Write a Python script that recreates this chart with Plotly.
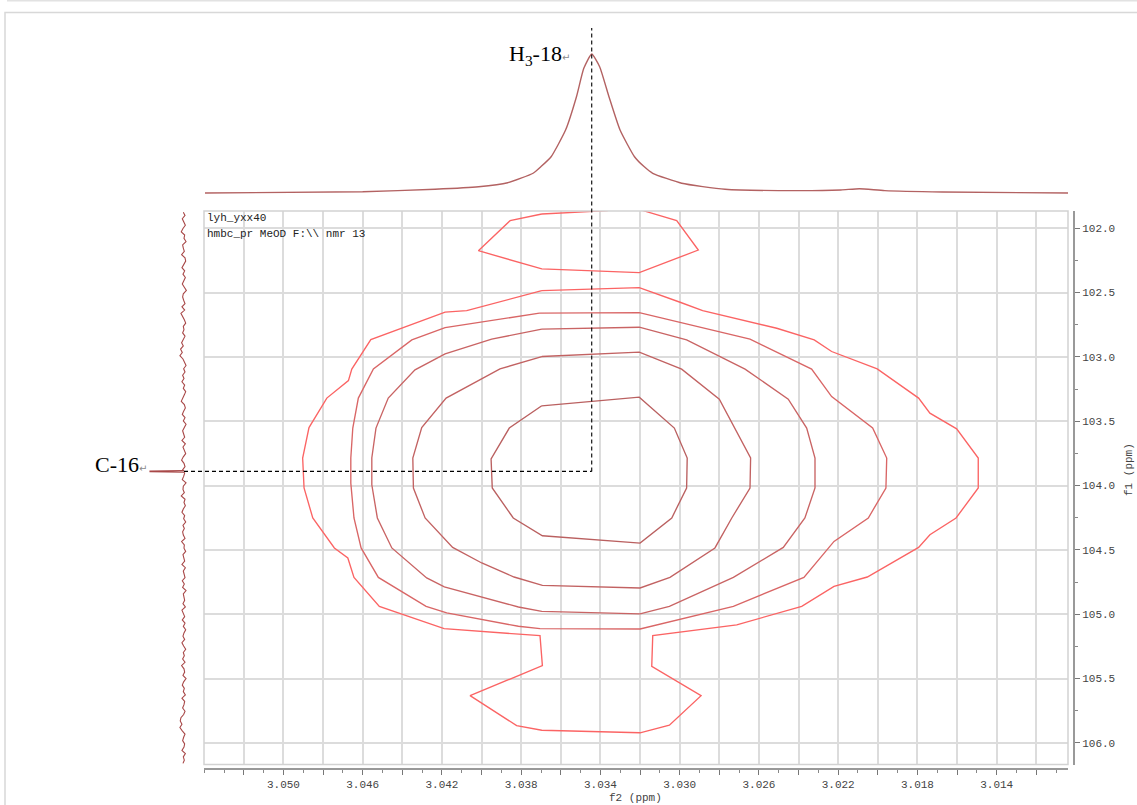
import numpy as np
import plotly.graph_objects as go

W, H = 1137, 805

# ---------------------------------------------------------------- axis windows (ppm)
F2_LEFT, F2_RIGHT = 3.05401, 3.01040      # 1H, f2 (reversed)
F1_BOTTOM, F1_TOP = 106.1685, 101.8656    # 13C, f1 (reversed)

f2_tick_ppm = [3.052, 3.050, 3.048, 3.046, 3.044, 3.042, 3.040, 3.038, 3.036, 3.034,
               3.032, 3.030, 3.028, 3.026, 3.024, 3.022, 3.020, 3.018, 3.016, 3.014, 3.012]
f2_tick_text = [" ", "3.050", " ", "3.046", " ", "3.042", " ", "3.038", " ", "3.034",
                " ", "3.030", " ", "3.026", " ", "3.022", " ", "3.018", " ", "3.014", " "]
f1_tick_ppm = [102.0, 102.5, 103.0, 103.5, 104.0, 104.5, 105.0, 105.5, 106.0]
f1_tick_text = ["102.0", "102.5", "103.0", "103.5", "104.0", "104.5", "105.0", "105.5", "106.0"]

# cross peak H3-18 / C-16
H3_18_PPM = 3.03444
C16_PPM = 103.890

# ---------------------------------------------------------------- contour levels (f2, f1 in ppm)
# upper satellite piece (runs off the top of the window)
contour_a_f2 = [3.03696, 3.03856, 3.04016, 3.03696, 3.03204, 3.02906, 3.03015, 3.03184,
                3.03276, 3.03365, 3.03696]
contour_a_f1 = [101.889, 101.941, 102.174, 102.316, 102.345, 102.169, 101.941, 101.863,
                101.810, 101.863, 101.889]

# outermost level, joined to the lower satellite
contour_b_f2 = [3.03696, 3.03204, 3.02998, 3.02884, 3.02510, 3.02321, 3.02233, 3.02003,
                3.01794, 3.01737, 3.01602, 3.01493, 3.01493, 3.01605, 3.01737, 3.01794,
                3.02053, 3.02221, 3.02384, 3.02712, 3.03136, 3.03141, 3.02892, 3.03052,
                3.03200, 3.03696, 3.03823, 3.04058, 3.03693, 3.03705, 3.04189, 3.04516,
                3.04644, 3.04675, 3.04743, 3.04852, 3.04896, 3.04903, 3.04871, 3.04781,
                3.04672, 3.04655, 3.04559, 3.04184, 3.04075, 3.03696]
contour_b_f1 = [102.485, 102.461, 102.575, 102.640, 102.777, 102.868, 102.958, 103.093,
                103.320, 103.437, 103.559, 103.786, 104.019, 104.252, 104.382, 104.481,
                104.711, 104.784, 104.939, 105.083, 105.167, 105.405, 105.633, 105.863,
                105.922, 105.902, 105.866, 105.633, 105.400, 105.167, 105.112, 104.939,
                104.714, 104.563, 104.485, 104.252, 104.019, 103.786, 103.549, 103.320,
                103.184, 103.095, 102.865, 102.652, 102.640, 102.485]

contour_c_f2 = [3.03708, 3.03204, 3.02645, 3.02334, 3.02233, 3.02026, 3.01955, 3.01959,
                3.02048, 3.02221, 3.02373, 3.02729, 3.03200, 3.03705, 3.03814, 3.04176,
                3.04280, 3.04521, 3.04608, 3.04644, 3.04660, 3.04660, 3.04650, 3.04622,
                3.04546, 3.04352, 3.04184, 3.03708]
contour_c_f1 = [102.660, 102.656, 102.862, 103.095, 103.308, 103.553, 103.786, 104.019,
                104.252, 104.434, 104.714, 104.939, 105.115, 105.112, 105.094, 104.990,
                104.939, 104.714, 104.485, 104.252, 103.981, 103.786, 103.553, 103.320,
                103.093, 102.868, 102.772, 102.660]

contour_d_f2 = [3.03696, 3.03204, 3.02965, 3.02670, 3.02452, 3.02359, 3.02317, 3.02317,
                3.02368, 3.02477, 3.02729, 3.03052, 3.03200, 3.03696, 3.03814, 3.04188,
                3.04277, 3.04453, 3.04526, 3.04554, 3.04554, 3.04533, 3.04471, 3.04336,
                3.04184, 3.03949, 3.03696]
contour_d_f1 = [102.784, 102.769, 102.868, 103.095, 103.328, 103.553, 103.786, 104.019,
                104.252, 104.481, 104.714, 104.939, 104.998, 104.978, 104.944, 104.788,
                104.718, 104.485, 104.252, 103.994, 103.786, 103.553, 103.320, 103.101,
                102.976, 102.862, 102.784]

contour_e_f2 = [3.03696, 3.03204, 3.02990, 3.02800, 3.02642, 3.02645, 3.02737, 3.02822,
                3.03049, 3.03200, 3.03693, 3.03836, 3.03999, 3.04146, 3.04285, 3.04344,
                3.04347, 3.04302, 3.04179, 3.03907, 3.03696]
contour_e_f1 = [102.997, 102.963, 103.095, 103.328, 103.786, 104.019, 104.252, 104.485,
                104.714, 104.796, 104.776, 104.711, 104.602, 104.481, 104.252, 104.019,
                103.786, 103.549, 103.320, 103.093, 102.997]

contour_f_f2 = [3.03696, 3.03204, 3.03027, 3.02962, 3.02965, 3.03040, 3.03200, 3.03693,
                3.03840, 3.03946, 3.03952, 3.03860, 3.03696]
contour_f_f1 = [103.380, 103.313, 103.553, 103.786, 104.019, 104.252, 104.447, 104.390,
                104.252, 104.019, 103.792, 103.553, 103.380]

# ---------------------------------------------------------------- 1D projections
# f2 (1H) projection on top, relative intensity
f2_proj_ppm = [3.05396, 3.04600, 3.04235, 3.04015, 3.03868, 3.03740, 3.03700, 3.03649,
               3.03576, 3.03521, 3.03484, 3.03444, 3.03404, 3.03357, 3.03301, 3.03228,
               3.03180, 3.03136, 3.02990, 3.02771, 3.02404, 3.02186, 3.02093, 3.01965,
               3.01673, 3.01035]
f2_proj_int = [0.0, 0.9, 2.7, 4.5, 7.4, 14.2, 19.0, 26.1,
               45.3, 69.3, 89.7, 100.0, 90.9, 69.3, 45.3, 26.1,
               19.0, 14.2, 7.0, 2.7, 1.7, 2.2, 3.1, 1.7,
               0.7, 0.0]

# f1 (13C) projection on the left: baseline noise plus the C-16 line
f1_proj_start, f1_proj_end = 101.875, 106.160
f1_noise = [
    2, -3, 5, 1, -4, 3, 8, -2, 0, -6, 4, 2, -1, 7, -3, -5, 1, 6, -2, 3,
    -4, 0, 5, -1, -7, 2, 4, 1, -3, 6, -2, 9, 3, -1, -5, 2, 0, 4, -3, 1,
    7, 2, 10, 5, 12, 3, -2, -6, 1, -3, 4, 0, 6, -2, 2, -5, -1, 3, 8, -1,
    -4, 1, 5, -3, 2, -6, 0, 4, 1, -2, 6, -4, 3, -1, -5, 2, 7, 0, -3, 4,
    -2, 1, 5, -6, 2, 3, -1, 8, -3, 0, -4, 2, 6, -2, 1, -5, 3, -1, 4, 2,
    -3, 7, -1, 0, -5, 3, 1, -2, 6, -4, 2, 0, -3, 5, -1, 4, -6, 2, 1, -2,
    3, -4, 6, 1, -2, 5, -3, 2, -5, 0, 3, -2, 6, 1, -5, 2, -1, 4, -3, 7,
    0, -2, 3, -6, 1, 5, -1, 2, -4, 6, -2, 0, 4, -3, 1, 9, 11, 6, 12, 5,
    -3, 1, 4, -2, 0, 6, -4, 2, -1, 3,
]
f1_peak_ppm = [103.884, 103.888, 103.892, 103.896]
f1_peak_int = [0.0, 100.0, 100.0, 0.0]

# ---------------------------------------------------------------- layout geometry (paper fractions)
X_DOM = [204 / W, 1068 / W]
Y_DOM = [1 - 764.5 / H, 1 - 211 / H]
X_AXIS_POS = 1 - 769 / H
Y_AXIS_POS = 1074 / W
TOP_DOM = [1 - 195 / H, 1 - 45 / H]
TOP_RANGE = [-1.44, 106.5]
LEFT_DOM = [140 / W, 200 / W]
LEFT_RANGE = [129.4, -47.1]


def f2_to_paper(v):
    return X_DOM[0] + (v - F2_LEFT) / (F2_RIGHT - F2_LEFT) * (X_DOM[1] - X_DOM[0])


def f1_to_paper(v):
    return Y_DOM[0] + (v - F1_BOTTOM) / (F1_TOP - F1_BOTTOM) * (Y_DOM[1] - Y_DOM[0])


def left_int_to_paper(v):
    return LEFT_DOM[0] + (v - LEFT_RANGE[0]) / (LEFT_RANGE[1] - LEFT_RANGE[0]) * (LEFT_DOM[1] - LEFT_DOM[0])


MONO = "Liberation Mono, DejaVu Sans Mono, monospace"
SERIF = "Liberation Serif, Times New Roman, serif"

fig = go.Figure()

# contour levels, outermost to innermost
levels = [
    (contour_a_f2, contour_a_f1, "#fb6464"),
    (contour_b_f2, contour_b_f1, "#fb6464"),
    (contour_c_f2, contour_c_f1, "#d96666"),
    (contour_d_f2, contour_d_f1, "#c96464"),
    (contour_e_f2, contour_e_f1, "#c26262"),
    (contour_f_f2, contour_f_f1, "#ba6060"),
]
for xs, ys, col in levels:
    fig.add_trace(go.Scatter(x=xs, y=ys, mode="lines", line=dict(color=col, width=1.35),
                             xaxis="x", yaxis="y", hoverinfo="skip", showlegend=False))

# top projection
fig.add_trace(go.Scatter(x=f2_proj_ppm, y=f2_proj_int, mode="lines",
                         line=dict(color="#b36262", width=1.4, shape="spline", smoothing=0.5),
                         xaxis="x2", yaxis="y2", hoverinfo="skip", showlegend=False))

# left projection
f1_grid = np.linspace(f1_proj_start, f1_proj_end, len(f1_noise))
f1_all_ppm = np.concatenate([f1_grid, f1_peak_ppm])
f1_all_int = np.concatenate([np.array(f1_noise, dtype=float), f1_peak_int])
order = np.argsort(f1_all_ppm)
fig.add_trace(go.Scatter(x=f1_all_int[order], y=f1_all_ppm[order], mode="lines",
                         line=dict(color="#a84848", width=1.1),
                         xaxis="x3", yaxis="y3", hoverinfo="skip", showlegend=False))

axis_font = dict(family=MONO, size=11, color="#444444")

fig.update_layout(
    width=W, height=H, autosize=False,
    margin=dict(l=0, r=0, t=0, b=0),
    paper_bgcolor="white", plot_bgcolor="white",
    xaxis=dict(
        domain=X_DOM, range=[F2_LEFT, F2_RIGHT], anchor="free", position=X_AXIS_POS,
        tickmode="array", tickvals=f2_tick_ppm, ticktext=f2_tick_text,
        ticks="outside", ticklen=5, tickwidth=1, tickcolor="#777777",
        minor=dict(dtick=0.001, tick0=3.0, ticks="outside", ticklen=3, tickcolor="#888888",
                   showgrid=False),
        showline=True, linecolor="#999999", linewidth=2,
        showgrid=True, gridcolor="#dcdcdc", gridwidth=1.5, zeroline=False,
        tickfont=axis_font,
    ),
    yaxis=dict(
        domain=Y_DOM, range=[F1_BOTTOM, F1_TOP], anchor="free", position=Y_AXIS_POS,
        side="right",
        tickmode="array", tickvals=f1_tick_ppm, ticktext=f1_tick_text,
        ticks="outside", ticklen=5, tickwidth=1, tickcolor="#777777",
        minor=dict(dtick=0.25, tick0=102.0, ticks="outside", ticklen=3, tickcolor="#888888",
                   showgrid=False),
        showline=True, linecolor="#999999", linewidth=2,
        showgrid=True, gridcolor="#dcdcdc", gridwidth=1.5, zeroline=False,
        tickfont=axis_font,
    ),
    xaxis2=dict(domain=X_DOM, range=[F2_LEFT, F2_RIGHT], anchor="y2", visible=False),
    yaxis2=dict(domain=TOP_DOM, range=TOP_RANGE, anchor="x2", visible=False),
    xaxis3=dict(domain=LEFT_DOM, range=LEFT_RANGE, anchor="y3", visible=False),
    yaxis3=dict(domain=Y_DOM, range=[F1_BOTTOM, F1_TOP], anchor="x3", visible=False),
)

shapes = [
    # page frame
    dict(type="line", xref="paper", yref="paper", x0=7 / W, x1=1.0, y0=1 - 0.8 / H, y1=1 - 0.8 / H,
         line=dict(color="#e2e2e2", width=1.5)),
    dict(type="rect", xref="paper", yref="paper", x0=5 / W, x1=1.01, y0=-0.01, y1=1 - 12.5 / H,
         line=dict(color="#d8d8d8", width=1.5), layer="below"),
    # plot frame
    dict(type="rect", xref="x domain", yref="y domain", x0=0, x1=1, y0=0, y1=1,
         line=dict(color="#d2d2d2", width=1.5)),
    # guide lines to the cross peak
    dict(type="line", xref="paper", yref="paper",
         x0=f2_to_paper(H3_18_PPM), x1=f2_to_paper(H3_18_PPM),
         y0=f1_to_paper(C16_PPM), y1=1 - 28 / H,
         line=dict(color="black", width=1.1, dash="4px,3px")),
    dict(type="line", xref="paper", yref="paper",
         x0=left_int_to_paper(0), x1=f2_to_paper(H3_18_PPM),
         y0=f1_to_paper(C16_PPM), y1=f1_to_paper(C16_PPM),
         line=dict(color="black", width=1.1, dash="4px,3px")),
]

ret = "<span style='font-family:DejaVu Sans;font-size:10px;color:#8a8a8a'>↵</span>"
annotations = [
    dict(text="H<sub>3</sub>-18" + ret, xref="paper", yref="paper",
         x=f2_to_paper(H3_18_PPM) - 20 / W, y=1 - 55 / H, xanchor="right", yanchor="middle",
         showarrow=False, font=dict(family=SERIF, size=22, color="black")),
    dict(text="C-16" + ret, xref="paper", yref="paper",
         x=149 / W, y=f1_to_paper(C16_PPM) + 7 / H, xanchor="right", yanchor="middle",
         showarrow=False, font=dict(family=SERIF, size=22, color="black")),
    dict(text="lyh_yxx40", xref="paper", yref="paper", x=205 / W, y=1 - 218 / H,
         xanchor="left", yanchor="middle", showarrow=False,
         font=dict(family=MONO, size=11, color="#222222")),
    dict(text="hmbc_pr MeOD F:\\\\ nmr 13", xref="paper", yref="paper", x=205 / W, y=1 - 234 / H,
         xanchor="left", yanchor="middle", showarrow=False,
         font=dict(family=MONO, size=11, color="#222222")),
    dict(text="f2 (ppm)", xref="paper", yref="paper", x=635 / W, y=1 - 798 / H,
         xanchor="center", yanchor="middle", showarrow=False, font=axis_font),
    dict(text="f1 (ppm)", xref="paper", yref="paper", x=1129 / W, y=1 - 470 / H,
         xanchor="center", yanchor="middle", textangle=-90, showarrow=False, font=axis_font),
]

fig.update_layout(shapes=shapes, annotations=annotations)

fig.write_html("out.html", config={"displayModeBar": False})
